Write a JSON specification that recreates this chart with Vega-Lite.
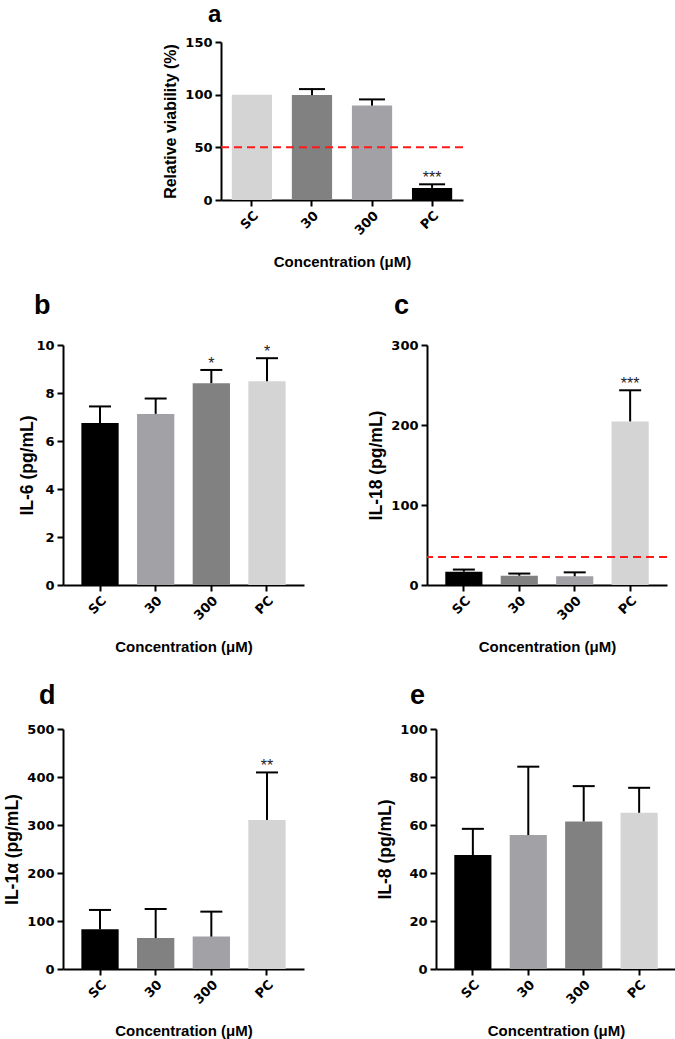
{
  "$schema": "https://vega.github.io/schema/vega-lite/v6.json",
  "background": "white",
  "padding": {"left": 3, "top": 3, "right": 0, "bottom": 0},
  "datasets": {
    "bars": [
      {"panel": "a", "group": "SC", "value": 100, "upper": null, "sig": ""},
      {"panel": "a", "group": "30", "value": 99.6, "upper": 105.3, "sig": ""},
      {"panel": "a", "group": "300", "value": 89.6, "upper": 95.5, "sig": ""},
      {"panel": "a", "group": "PC", "value": 11.5, "upper": 14.9, "sig": "***"},
      {"panel": "b", "group": "SC", "value": 6.75, "upper": 7.44, "sig": ""},
      {"panel": "b", "group": "30", "value": 7.13, "upper": 7.77, "sig": ""},
      {"panel": "b", "group": "300", "value": 8.41, "upper": 8.96, "sig": "*"},
      {"panel": "b", "group": "PC", "value": 8.49, "upper": 9.45, "sig": "*"},
      {"panel": "c", "group": "SC", "value": 16.6, "upper": 19.3, "sig": ""},
      {"panel": "c", "group": "30", "value": 11.6, "upper": 14.3, "sig": ""},
      {"panel": "c", "group": "300", "value": 10.9, "upper": 15.8, "sig": ""},
      {"panel": "c", "group": "PC", "value": 204.5, "upper": 243.4, "sig": "***"},
      {"panel": "d", "group": "SC", "value": 82.6, "upper": 123, "sig": ""},
      {"panel": "d", "group": "30", "value": 64.5, "upper": 125, "sig": ""},
      {"panel": "d", "group": "300", "value": 67.5, "upper": 119.5, "sig": ""},
      {"panel": "d", "group": "PC", "value": 310.5, "upper": 409.5, "sig": "**"},
      {"panel": "e", "group": "SC", "value": 47.5, "upper": 58.4, "sig": ""},
      {"panel": "e", "group": "30", "value": 55.8, "upper": 84.3, "sig": ""},
      {"panel": "e", "group": "300", "value": 61.5, "upper": 76.2, "sig": ""},
      {"panel": "e", "group": "PC", "value": 65.1, "upper": 75.5, "sig": ""}
    ],
    "thr": [
      {"panel": "a", "threshold": 50},
      {"panel": "c", "threshold": 35}
    ]
  },
  "config": {
    "view": {"stroke": null},
    "font": "Liberation Sans",
    "axis": {
      "grid": false,
      "domainColor": "black",
      "domainWidth": 2,
      "tickColor": "black",
      "tickWidth": 2,
      "tickSize": 6,
      "labelFont": "DejaVu Sans",
      "labelFontSize": 13,
      "labelFontWeight": "bold",
      "labelColor": "black",
      "labelPadding": 3,
      "labelOverlap": false,
      "labelFlush": false,
      "titleFont": "Liberation Sans",
      "titleFontSize": 15,
      "titleFontWeight": "bold",
      "titleColor": "black"
    },
    "axisX": {"titlePadding": 17},
    "axisY": {"titlePadding": 6, "titleFontSize": 17.5},
    "title": {"font": "Liberation Sans", "fontSize": 27, "fontWeight": "bold", "color": "black", "anchor": "start", "frame": "group"}
  },
  "resolve": {"scale": {"color": "independent", "x": "independent", "y": "independent"}},
  "spacing": 22,
  "vconcat": [
    {
      "spacing": 0,
      "resolve": {"scale": {"color": "independent", "x": "independent", "y": "independent"}},
      "hconcat": [
        {"width": 99, "height": 10, "data": {"values": [{}]}, "mark": {"type": "point", "opacity": 0}},
        {
          "width": 242, "height": 158,
          "title": {"text": "a", "dx": -13, "offset": 9, "fontSize": 24},
          "data": {"name": "bars"},
          "transform": [{"filter": "datum.panel === 'a'"}],
          "layer": [
            {"mark": {"type": "bar"},
             "encoding": {
               "x": {"field": "group", "type": "nominal", "sort": ["SC", "30", "300", "PC"], "title": "Concentration (μM)", "scale": {"paddingInner": 0.33, "paddingOuter": 0.18}, "axis": {"labelAngle": -45}},
               "y": {"field": "value", "type": "quantitative", "title": "Relative viability (%)", "scale": {"domain": [0, 150], "nice": false}, "axis": {"values": [0, 25, 50, 75, 100, 125, 150], "titleFontSize": 16}},
               "color": {"field": "group", "type": "nominal", "scale": {"domain": ["SC", "30", "300", "PC"], "range": ["#d4d4d4", "#818181", "#a2a2a6", "#000000"]}, "legend": null}
             }},
            {"mark": {"type": "rule", "color": "black", "strokeWidth": 2},
             "encoding": {
               "x": {"field": "group", "type": "nominal", "sort": ["SC", "30", "300", "PC"], "title": "Concentration (μM)"},
               "y": {"field": "value", "type": "quantitative", "title": "Relative viability (%)"},
               "y2": {"field": "upper"}
             }},
            {"mark": {"type": "tick", "color": "black", "thickness": 2, "size": 26, "opacity": 1},
             "encoding": {
               "x": {"field": "group", "type": "nominal", "sort": ["SC", "30", "300", "PC"], "title": "Concentration (μM)"},
               "y": {"field": "upper", "type": "quantitative", "title": "Relative viability (%)"}
             }},
            {"transform": [{"filter": "datum.sig !== ''"}],
             "mark": {"type": "text", "fontSize": 16, "color": "#222", "baseline": "alphabetic", "dy": -1, "font": "Liberation Sans"},
             "encoding": {
               "x": {"field": "group", "type": "nominal", "sort": ["SC", "30", "300", "PC"], "title": "Concentration (μM)"},
               "y": {"field": "upper", "type": "quantitative", "title": "Relative viability (%)"},
               "text": {"field": "sig"}
             }},
            {"data": {"name": "thr"},
             "transform": [{"filter": "datum.panel === 'a'"}],
             "mark": {"type": "rule", "color": "#ff1a1a", "strokeWidth": 2, "strokeDash": [8, 5]},
             "encoding": {
               "y": {"field": "threshold", "type": "quantitative", "title": "Relative viability (%)"}
             }}
          ]
        }
      ]
    },
    {
      "spacing": 27,
      "resolve": {"scale": {"color": "independent", "x": "independent", "y": "independent"}},
      "vconcat": [
        {
          "spacing": 63,
          "resolve": {"scale": {"color": "independent", "x": "independent", "y": "independent"}},
          "hconcat": [
            {
              "width": 241, "height": 240,
              "title": {"text": "b", "dx": -29, "offset": 19},
              "data": {"name": "bars"},
              "transform": [{"filter": "datum.panel === 'b'"}],
              "layer": [
                {"mark": {"type": "bar"},
                 "encoding": {
                   "x": {"field": "group", "type": "nominal", "sort": ["SC", "30", "300", "PC"], "title": "Concentration (μM)", "scale": {"paddingInner": 0.33, "paddingOuter": 0.33}, "axis": {"labelAngle": -45}},
                   "y": {"field": "value", "type": "quantitative", "title": "IL-6 (pg/mL)", "scale": {"domain": [0, 10], "nice": false}, "axis": {"values": [0, 2, 4, 6, 8, 10], "titlePadding": -1}},
                   "color": {"field": "group", "type": "nominal", "scale": {"domain": ["SC", "30", "300", "PC"], "range": ["#000000", "#a2a2a6", "#818181", "#d4d4d4"]}, "legend": null}
                 }},
                {"mark": {"type": "rule", "color": "black", "strokeWidth": 2},
                 "encoding": {
                   "x": {"field": "group", "type": "nominal", "sort": ["SC", "30", "300", "PC"], "title": "Concentration (μM)"},
                   "y": {"field": "value", "type": "quantitative", "title": "IL-6 (pg/mL)"},
                   "y2": {"field": "upper"}
                 }},
                {"mark": {"type": "tick", "color": "black", "thickness": 2, "size": 22, "opacity": 1},
                 "encoding": {
                   "x": {"field": "group", "type": "nominal", "sort": ["SC", "30", "300", "PC"], "title": "Concentration (μM)"},
                   "y": {"field": "upper", "type": "quantitative", "title": "IL-6 (pg/mL)"}
                 }},
                {"transform": [{"filter": "datum.sig !== ''"}],
                 "mark": {"type": "text", "fontSize": 16, "color": "#222", "baseline": "alphabetic", "dy": -1, "font": "Liberation Sans"},
                 "encoding": {
                   "x": {"field": "group", "type": "nominal", "sort": ["SC", "30", "300", "PC"], "title": "Concentration (μM)"},
                   "y": {"field": "upper", "type": "quantitative", "title": "IL-6 (pg/mL)"},
                   "text": {"field": "sig"}
                 }}
              ]
            },
            {
              "width": 240, "height": 240,
              "title": {"text": "c", "dx": -33, "offset": 19},
              "data": {"name": "bars"},
              "transform": [{"filter": "datum.panel === 'c'"}],
              "layer": [
                {"mark": {"type": "bar"},
                 "encoding": {
                   "x": {"field": "group", "type": "nominal", "sort": ["SC", "30", "300", "PC"], "title": "Concentration (μM)", "scale": {"paddingInner": 0.33, "paddingOuter": 0.33}, "axis": {"labelAngle": -45}},
                   "y": {"field": "value", "type": "quantitative", "title": "IL-18 (pg/mL)", "scale": {"domain": [0, 300], "nice": false}, "axis": {"values": [0, 100, 200, 300], "titlePadding": 5}},
                   "color": {"field": "group", "type": "nominal", "scale": {"domain": ["SC", "30", "300", "PC"], "range": ["#000000", "#818181", "#a2a2a6", "#d4d4d4"]}, "legend": null}
                 }},
                {"mark": {"type": "rule", "color": "black", "strokeWidth": 2},
                 "encoding": {
                   "x": {"field": "group", "type": "nominal", "sort": ["SC", "30", "300", "PC"], "title": "Concentration (μM)"},
                   "y": {"field": "value", "type": "quantitative", "title": "IL-18 (pg/mL)"},
                   "y2": {"field": "upper"}
                 }},
                {"mark": {"type": "tick", "color": "black", "thickness": 2, "size": 22, "opacity": 1},
                 "encoding": {
                   "x": {"field": "group", "type": "nominal", "sort": ["SC", "30", "300", "PC"], "title": "Concentration (μM)"},
                   "y": {"field": "upper", "type": "quantitative", "title": "IL-18 (pg/mL)"}
                 }},
                {"transform": [{"filter": "datum.sig !== ''"}],
                 "mark": {"type": "text", "fontSize": 16, "color": "#222", "baseline": "alphabetic", "dy": -1, "font": "Liberation Sans"},
                 "encoding": {
                   "x": {"field": "group", "type": "nominal", "sort": ["SC", "30", "300", "PC"], "title": "Concentration (μM)"},
                   "y": {"field": "upper", "type": "quantitative", "title": "IL-18 (pg/mL)"},
                   "text": {"field": "sig"}
                 }},
                {"data": {"name": "thr"},
                 "transform": [{"filter": "datum.panel === 'c'"}],
                 "mark": {"type": "rule", "color": "#ff1a1a", "strokeWidth": 2, "strokeDash": [8, 5]},
                 "encoding": {
                   "y": {"field": "threshold", "type": "quantitative", "title": "IL-18 (pg/mL)"}
                 }}
              ]
            }
          ]
        },
        {
          "spacing": 72,
          "resolve": {"scale": {"color": "independent", "x": "independent", "y": "independent"}},
          "hconcat": [
            {
              "width": 241, "height": 240,
              "title": {"text": "d", "dx": -24, "offset": 13},
              "data": {"name": "bars"},
              "transform": [{"filter": "datum.panel === 'd'"}],
              "layer": [
                {"mark": {"type": "bar"},
                 "encoding": {
                   "x": {"field": "group", "type": "nominal", "sort": ["SC", "30", "300", "PC"], "title": "Concentration (μM)", "scale": {"paddingInner": 0.33, "paddingOuter": 0.33}, "axis": {"labelAngle": -45}},
                   "y": {"field": "value", "type": "quantitative", "title": "IL-1α (pg/mL)", "scale": {"domain": [0, 500], "nice": false}, "axis": {"values": [0, 100, 200, 300, 400, 500], "titlePadding": 5}},
                   "color": {"field": "group", "type": "nominal", "scale": {"domain": ["SC", "30", "300", "PC"], "range": ["#000000", "#818181", "#a2a2a6", "#d4d4d4"]}, "legend": null}
                 }},
                {"mark": {"type": "rule", "color": "black", "strokeWidth": 2},
                 "encoding": {
                   "x": {"field": "group", "type": "nominal", "sort": ["SC", "30", "300", "PC"], "title": "Concentration (μM)"},
                   "y": {"field": "value", "type": "quantitative", "title": "IL-1α (pg/mL)"},
                   "y2": {"field": "upper"}
                 }},
                {"mark": {"type": "tick", "color": "black", "thickness": 2, "size": 22, "opacity": 1},
                 "encoding": {
                   "x": {"field": "group", "type": "nominal", "sort": ["SC", "30", "300", "PC"], "title": "Concentration (μM)"},
                   "y": {"field": "upper", "type": "quantitative", "title": "IL-1α (pg/mL)"}
                 }},
                {"transform": [{"filter": "datum.sig !== ''"}],
                 "mark": {"type": "text", "fontSize": 16, "color": "#222", "baseline": "alphabetic", "dy": -1, "font": "Liberation Sans"},
                 "encoding": {
                   "x": {"field": "group", "type": "nominal", "sort": ["SC", "30", "300", "PC"], "title": "Concentration (μM)"},
                   "y": {"field": "upper", "type": "quantitative", "title": "IL-1α (pg/mL)"},
                   "text": {"field": "sig"}
                 }}
              ]
            },
            {
              "width": 240, "height": 240,
              "title": {"text": "e", "dx": -26, "offset": 13},
              "data": {"name": "bars"},
              "transform": [{"filter": "datum.panel === 'e'"}],
              "layer": [
                {"mark": {"type": "bar"},
                 "encoding": {
                   "x": {"field": "group", "type": "nominal", "sort": ["SC", "30", "300", "PC"], "title": "Concentration (μM)", "scale": {"paddingInner": 0.33, "paddingOuter": 0.33}, "axis": {"labelAngle": -45}},
                   "y": {"field": "value", "type": "quantitative", "title": "IL-8 (pg/mL)", "scale": {"domain": [0, 100], "nice": false}, "axis": {"values": [0, 20, 40, 60, 80, 100], "titlePadding": 5}},
                   "color": {"field": "group", "type": "nominal", "scale": {"domain": ["SC", "30", "300", "PC"], "range": ["#000000", "#a2a2a6", "#818181", "#d4d4d4"]}, "legend": null}
                 }},
                {"mark": {"type": "rule", "color": "black", "strokeWidth": 2},
                 "encoding": {
                   "x": {"field": "group", "type": "nominal", "sort": ["SC", "30", "300", "PC"], "title": "Concentration (μM)"},
                   "y": {"field": "value", "type": "quantitative", "title": "IL-8 (pg/mL)"},
                   "y2": {"field": "upper"}
                 }},
                {"mark": {"type": "tick", "color": "black", "thickness": 2, "size": 22, "opacity": 1},
                 "encoding": {
                   "x": {"field": "group", "type": "nominal", "sort": ["SC", "30", "300", "PC"], "title": "Concentration (μM)"},
                   "y": {"field": "upper", "type": "quantitative", "title": "IL-8 (pg/mL)"}
                 }}
              ]
            }
          ]
        }
      ]
    }
  ]
}
